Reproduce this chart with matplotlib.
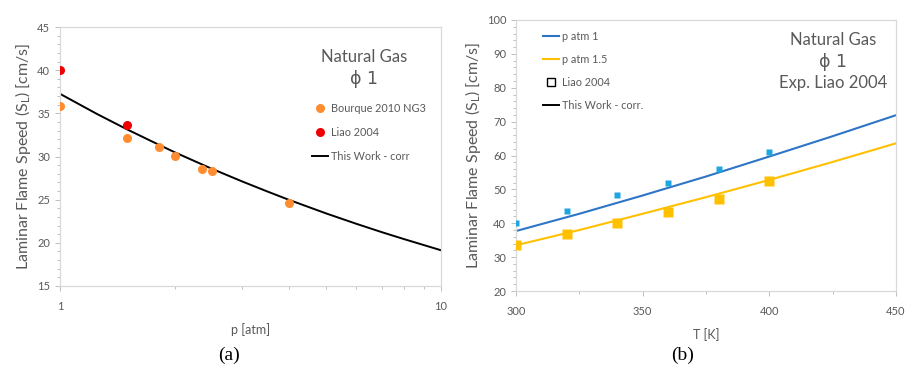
import matplotlib
matplotlib.use("Agg")
import matplotlib.pyplot as plt
from matplotlib.ticker import MultipleLocator, FixedLocator, NullFormatter
from matplotlib.lines import Line2D

plt.rcParams['font.family'] = ['Lato', 'DejaVu Sans']

# ---- panel (a): flame speed vs pressure ----
p_bourque = [1.0, 1.5, 1.82, 2.0, 2.36, 2.5, 4.0]
sl_bourque = [35.9, 32.1, 31.1, 30.1, 28.5, 28.3, 24.6]
p_liao = [1.0, 1.5]
sl_liao = [40.0, 33.7]
p_corr = [1.0, 1.25, 1.5, 1.75, 2.0, 2.5, 3.0, 3.5, 4.0, 5.0, 6.0, 7.0, 8.0, 9.0, 10.0]
sl_corr = [37.26, 34.93, 33.14, 31.71, 30.49, 28.59, 27.13, 25.95, 24.96,
           23.40, 22.20, 21.23, 20.43, 19.75, 19.14]

# ---- panel (b): flame speed vs temperature ----
T_exp = [300, 320, 340, 360, 380, 400]
sl_exp_p1 = [40.1, 43.5, 48.2, 51.8, 56.0, 60.9]
sl_exp_p15 = [33.6, 36.7, 40.0, 43.3, 47.1, 52.5]
T_corr = [300, 325, 350, 375, 400, 425, 450]
sl_corr_p1 = [37.7, 42.8, 48.2, 53.8, 59.7, 65.7, 71.9]
sl_corr_p15 = [33.5, 38.0, 42.8, 47.7, 52.8, 58.1, 63.6]

TXT = '#595959'
SPINE = '#d9d9d9'
TICK = '#bfbfbf'

fig = plt.figure(figsize=(9.05, 3.68), dpi=100)
axA = fig.add_axes([60/905, 1-286/368, 381/905, 259/368])
axB = fig.add_axes([516/905, 1-291/368, 380/905, 271/368])

for ax in (axA, axB):
    for s in ax.spines.values():
        s.set_color(SPINE)
        s.set_linewidth(0.9)
    ax.tick_params(which='both', colors=TICK, labelcolor=TXT, labelsize=8,
                   direction='out', width=0.7)
    ax.tick_params(which='major', length=3.5)
    ax.tick_params(which='minor', length=2.5)
    ax.set_facecolor('white')

# panel (a)
axA.set_xscale('log')
axA.plot(p_corr, sl_corr, color='black', lw=1.4, zorder=2)
axA.plot(p_bourque, sl_bourque, 'o', color='#ff8c2e', ms=6.5, mec='none', zorder=3)
axA.plot(p_liao, sl_liao, 'o', color='#ee0000', ms=6.5, mec='none', zorder=3)
axA.set_xlim(1, 10)
axA.set_ylim(15, 45)
axA.xaxis.set_major_locator(FixedLocator([1, 10]))
axA.set_xticklabels(['1', '10'])
axA.xaxis.set_minor_locator(FixedLocator([2, 3, 4, 5, 6, 7, 8, 9]))
axA.xaxis.set_minor_formatter(NullFormatter())
axA.yaxis.set_major_locator(MultipleLocator(5))
axA.yaxis.set_minor_locator(MultipleLocator(1))
axA.tick_params(axis='x', pad=7)
axA.set_xlabel('p [atm]', color=TXT, fontsize=9, labelpad=8)
axA.set_ylabel('Laminar Flame Speed (S$_\\mathregular{L}$) [cm/s]', color=TXT,
               fontsize=11.5, labelpad=3)
axA.text(0.798, 0.884, 'Natural Gas', transform=axA.transAxes, ha='center',
         va='center', fontsize=12, color=TXT)
axA.text(0.798, 0.799, '\u03d5 1', transform=axA.transAxes, ha='center',
         va='center', fontsize=12.5, color=TXT, family=['DejaVu Sans'])
legA = [
    Line2D([], [], marker='o', ls='none', color='#ff8c2e', ms=6.5, mec='none',
           label='Bourque 2010 NG3'),
    Line2D([], [], marker='o', ls='none', color='#ee0000', ms=6.5, mec='none',
           label='Liao 2004'),
    Line2D([], [], color='black', lw=1.4, label='This Work - corr'),
]
axA.legend(handles=legA, loc='upper left', bbox_to_anchor=(0.651, 0.725),
           frameon=False, fontsize=7.8, labelcolor=TXT, handlelength=1.45,
           handletextpad=0.3, labelspacing=1.22, borderaxespad=0)

# panel (b)
axB.plot(T_corr, sl_corr_p1, color='#2e75c6', lw=1.5, zorder=2)
axB.plot(T_corr, sl_corr_p15, color='#ffc000', lw=1.5, zorder=2)
axB.plot(T_exp, sl_exp_p1, 's', color='#1ea6e0', ms=5, mec='none', zorder=3)
axB.plot(T_exp, sl_exp_p15, 's', color='#ffc000', ms=6.5, mec='none', zorder=3)
axB.set_xlim(300, 450)
axB.set_ylim(20, 100)
axB.xaxis.set_major_locator(MultipleLocator(50))
axB.xaxis.set_minor_locator(MultipleLocator(25))
axB.yaxis.set_major_locator(MultipleLocator(10))
axB.yaxis.set_minor_locator(MultipleLocator(2))
axB.tick_params(axis='x', pad=7)
axB.set_xlabel('T [K]', color=TXT, fontsize=9, labelpad=8)
axB.set_ylabel('Laminar Flame Speed (S$_\\mathregular{L}$) [cm/s]', color=TXT,
               fontsize=11.5, labelpad=3)
axB.text(0.834, 0.926, 'Natural Gas', transform=axB.transAxes, ha='center',
         va='center', fontsize=12, color=TXT)
axB.text(0.834, 0.845, '\u03d5 1', transform=axB.transAxes, ha='center',
         va='center', fontsize=12.5, color=TXT, family=['DejaVu Sans'])
axB.text(0.834, 0.767, 'Exp. Liao 2004', transform=axB.transAxes, ha='center',
         va='center', fontsize=12, color=TXT)
legB = [
    Line2D([], [], color='#2e75c6', lw=1.5, label='p atm 1'),
    Line2D([], [], color='#ffc000', lw=1.5, label='p atm 1.5'),
    Line2D([], [], marker='s', ls='none', mfc='none', mec='black', ms=5.5,
           mew=1.0, label='Liao 2004'),
    Line2D([], [], color='black', lw=1.4, label='This Work - corr.'),
]
axB.legend(handles=legB, loc='upper left', bbox_to_anchor=(0.06, 0.975),
           frameon=False, fontsize=7.8, labelcolor=TXT, handlelength=1.45,
           handletextpad=0.3, labelspacing=1.1, borderaxespad=0)

fig.text(229/905, 1-355/368, '(a)', ha='center', va='center', fontsize=14,
         family=['Liberation Serif'])
fig.text(683/905, 1-355/368, '(b)', ha='center', va='center', fontsize=14,
         family=['Liberation Serif'])

fig.savefig('out.png', dpi=100, facecolor='white')
